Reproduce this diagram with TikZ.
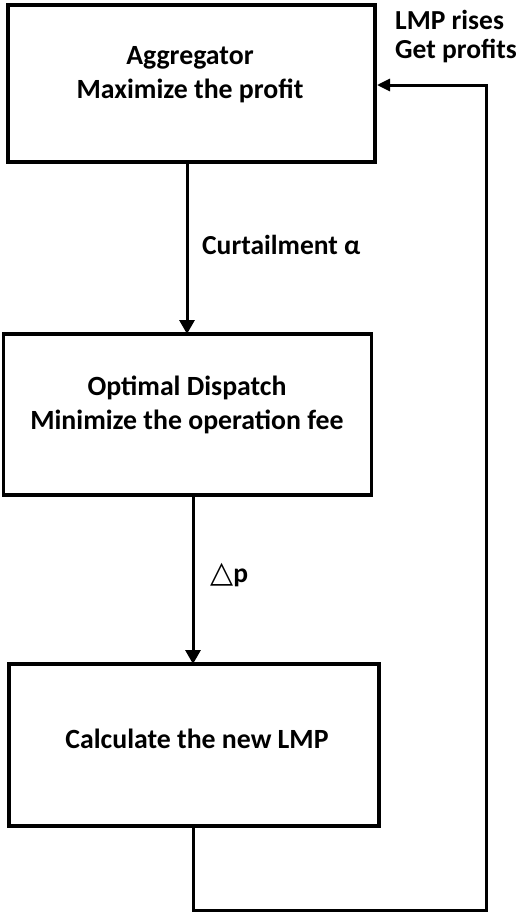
\documentclass[tikz,border=0pt]{standalone}
\usepackage{fontspec}
\setmainfont{Carlito}
\newfontfamily\symfont{DejaVu Sans}
\usetikzlibrary{arrows.meta}
\begin{document}
\begin{tikzpicture}[x=1pt,y=-1pt,
  box/.style={draw,line width=3.5pt,rectangle,inner sep=0pt,outer sep=0pt,line join=miter},
  txt/.style={font=\fontsize{27.8}{34}\selectfont\bfseries,align=center,inner sep=0pt},
  lbl/.style={font=\fontsize{27.5}{29}\selectfont\bfseries,align=left,inner sep=0pt,anchor=west},
  conn/.style={line width=3pt,-{Triangle[length=14pt,width=15pt]}},
  fb/.style={line width=3pt,-{Triangle[length=13pt,width=12pt]}}]
\useasboundingbox (0,0) rectangle (521,913);
\node[box,minimum width=367pt,minimum height=157pt] (b1) at (191.5,83.5) {};
\node[box,minimum width=368pt,minimum height=161pt] (b2) at (187.5,414.5) {};
\node[box,minimum width=370pt,minimum height=162pt] (b3) at (194,745) {};
\node[txt] (t1) at (190,75) {Aggregator\\Maximize the profit};
\node[txt] (t2) at (187,405) {Optimal Dispatch\\Minimize the operation fee};
\node[txt] (t3) at (197,739) {Calculate the new LMP};
\node[lbl] (l1) at (395,37) {LMP rises\\Get profits};
\node[lbl] (l2) at (202,245) {Curtailment α};
\node[lbl] (l3) at (210,575) {{\symfont\mdseries\fontsize{30}{30}\selectfont △}p};
\coordinate (a1) at (187,162);
\coordinate (a2) at (193,495);
\coordinate (c1) at (193,826);
\coordinate (c2) at (193,910);
\coordinate (c3) at (486,910);
\coordinate (c4) at (486,85);
\coordinate (c5) at (377,85);
\draw[conn] (a1) -- (a1 |- b2.north);
\draw[conn] (a2) -- (a2 |- b3.north);
\draw[fb,line join=miter] (c1) -- (c2) -- (c3) -- (c4) -- (c5);
\end{tikzpicture}
\end{document}
